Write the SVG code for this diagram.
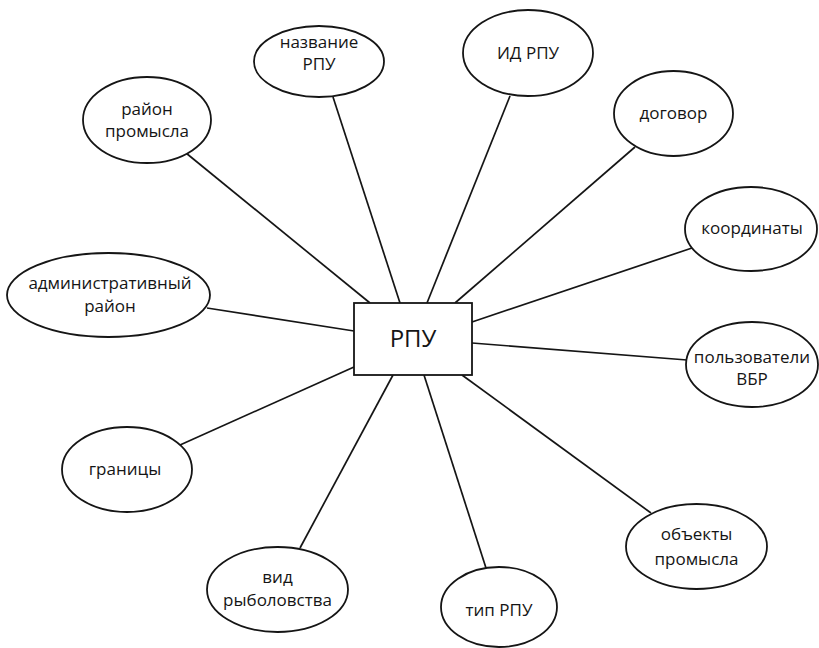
<svg xmlns="http://www.w3.org/2000/svg" width="819" height="648" viewBox="0 0 819 648">
<style>
.n ellipse, .n rect { fill: #ffffff; stroke: #151515; stroke-width: 1.8; }
.n text { font-family: "Open Sans", "Liberation Sans", sans-serif; font-size: 17px; fill: #151515; text-anchor: middle; }
#rpu text { font-size: 24px; }
#edges line { stroke: #151515; stroke-width: 1.7; }
</style>
<rect width="819" height="648" fill="#ffffff"/>
<g id="edges">
<line x1="333" y1="97" x2="400" y2="303"/>
<line x1="186" y1="153" x2="370" y2="303"/>
<line x1="207" y1="308" x2="354" y2="331"/>
<line x1="510" y1="96" x2="427" y2="303"/>
<line x1="635" y1="147" x2="455" y2="303"/>
<line x1="692" y1="248" x2="472" y2="322"/>
<line x1="687" y1="360" x2="472" y2="343"/>
<line x1="651" y1="513" x2="462" y2="375"/>
<line x1="486" y1="568" x2="424" y2="375"/>
<line x1="300" y1="548" x2="393" y2="375"/>
<line x1="180" y1="445" x2="354" y2="367"/>
</g>
<g id="rpu" class="n">
<rect x="354" y="303" width="118" height="72"/>
<text x="413" y="347">РПУ</text>
</g>
<g id="nazvanie" class="n">
<ellipse cx="319" cy="61.5" rx="65" ry="35.5"/>
<text x="319" y="48">название</text>
<text x="319" y="70">РПУ</text>
</g>
<g id="rayon-promysla" class="n">
<ellipse cx="147" cy="120" rx="64" ry="43"/>
<text x="147" y="115">район</text>
<text x="147" y="137">промысла</text>
</g>
<g id="admin-rayon" class="n">
<ellipse cx="108.5" cy="295" rx="101.5" ry="42"/>
<text x="110" y="289">административный</text>
<text x="110" y="312">район</text>
</g>
<g id="id-rpu" class="n">
<ellipse cx="528" cy="53" rx="65" ry="43"/>
<text x="528" y="59">ИД РПУ</text>
</g>
<g id="dogovor" class="n">
<ellipse cx="673.5" cy="113.5" rx="59.5" ry="42.5"/>
<text x="673.5" y="119">договор</text>
</g>
<g id="koordinaty" class="n">
<ellipse cx="751" cy="229" rx="66" ry="42"/>
<text x="752" y="234">координаты</text>
</g>
<g id="polzovateli" class="n">
<ellipse cx="752" cy="364.5" rx="66" ry="42.5"/>
<text x="752" y="363">пользователи</text>
<text x="752" y="385">ВБР</text>
</g>
<g id="obekty" class="n">
<ellipse cx="696.5" cy="546.5" rx="70.5" ry="42.5"/>
<text x="696.5" y="540">объекты</text>
<text x="696.5" y="565">промысла</text>
</g>
<g id="tip-rpu" class="n">
<ellipse cx="499" cy="607" rx="58" ry="40"/>
<text x="499" y="616">тип РПУ</text>
</g>
<g id="vid" class="n">
<ellipse cx="277.5" cy="589.5" rx="70.5" ry="42.5"/>
<text x="277.5" y="583">вид</text>
<text x="277.5" y="606">рыболовства</text>
</g>
<g id="granitsy" class="n">
<ellipse cx="127" cy="469.5" rx="65" ry="42.5"/>
<text x="125" y="475">границы</text>
</g>
</svg>
